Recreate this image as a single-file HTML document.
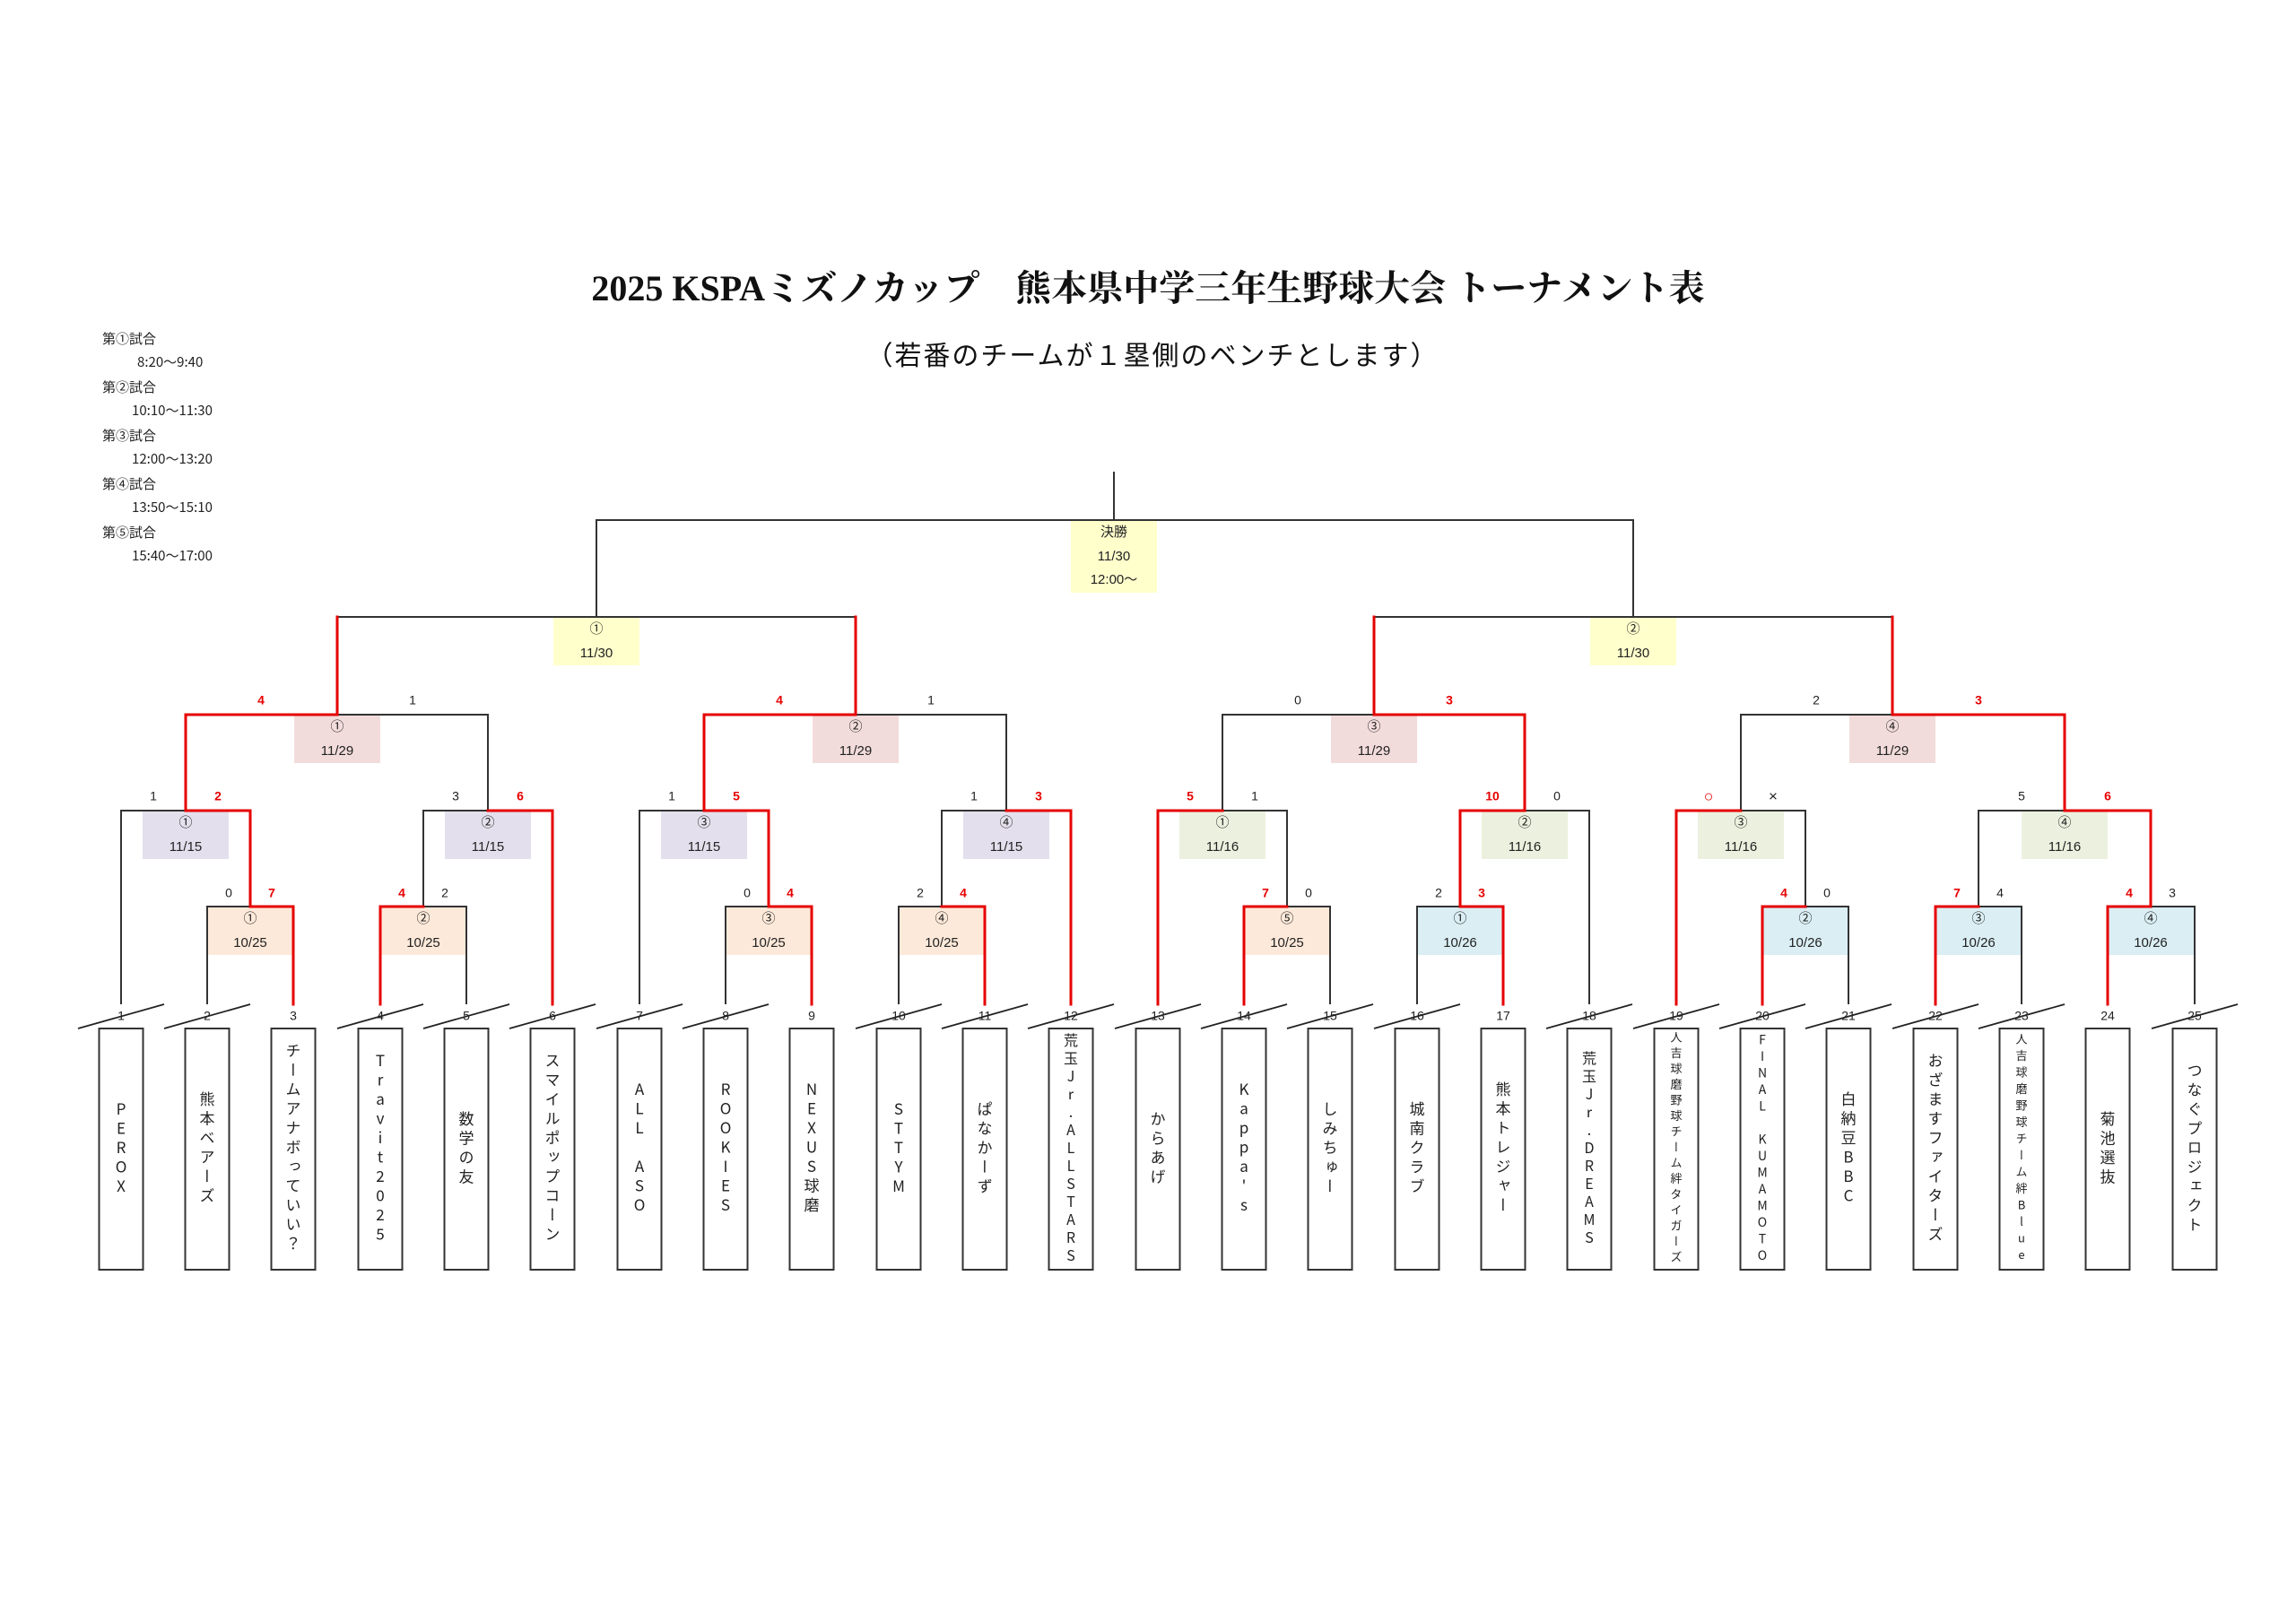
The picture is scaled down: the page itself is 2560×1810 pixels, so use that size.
<!DOCTYPE html>
<html><head><meta charset="utf-8">
<style>
html,body{margin:0;padding:0;background:#fff;}
body{width:2560px;height:1810px;position:relative;overflow:hidden;font-family:"Liberation Sans","Noto Sans CJK JP",sans-serif;color:#222;}
svg{position:absolute;left:0;top:0;}
.t{position:absolute;top:1147px;width:49px;height:269px;display:flex;align-items:center;justify-content:center;}
.t span{writing-mode:vertical-rl;text-orientation:upright;font-family:"Noto Sans CJK JP",sans-serif;font-size:17px;letter-spacing:4.5px;line-height:1;color:#222;white-space:nowrap;}
.lg{position:absolute;font-family:"Noto Sans CJK JP",sans-serif;font-size:15px;color:#222;line-height:1;}
</style></head><body>
<div style="position:absolute;left:0;top:300px;width:2560px;text-align:center;font-family:'Liberation Serif','Noto Serif CJK SC',serif;font-weight:bold;font-size:40px;line-height:44px;color:#111;">2025 KSPAミズノカップ　熊本県中学三年生野球大会 トーナメント表</div>
<div style="position:absolute;left:0;top:376px;width:2560px;text-align:center;font-family:'Noto Sans CJK JP',sans-serif;font-size:30px;letter-spacing:2px;line-height:36px;color:#111;padding-left:10px;box-sizing:border-box;">（若番のチームが１塁側のベンチとします）</div>

<div class="lg" style="left:114px;top:370px">第①試合</div>
<div class="lg" style="left:153px;top:396px">8:20～9:40</div>
<div class="lg" style="left:114px;top:424px">第②試合</div>
<div class="lg" style="left:147px;top:450px">10:10～11:30</div>
<div class="lg" style="left:114px;top:478px">第③試合</div>
<div class="lg" style="left:147px;top:504px">12:00～13:20</div>
<div class="lg" style="left:114px;top:532px">第④試合</div>
<div class="lg" style="left:147px;top:558px">13:50～15:10</div>
<div class="lg" style="left:114px;top:586px">第⑤試合</div>
<div class="lg" style="left:147px;top:612px">15:40～17:00</div>

<svg width="2560" height="1810" viewBox="0 0 2560 1810" xmlns="http://www.w3.org/2000/svg">
<g stroke="none">
<rect x="1194" y="581" width="96" height="80" fill="#ffffcc"/>
<rect x="617" y="689" width="96" height="53" fill="#ffffcc"/>
<rect x="1773" y="689" width="96" height="53" fill="#ffffcc"/>
<g fill="#f2dcdb">
<rect x="328" y="798" width="96" height="53"/><rect x="906" y="798" width="96" height="53"/>
<rect x="1484" y="798" width="96" height="53"/><rect x="2062" y="798" width="96" height="53"/>
</g>
<g fill="#e4dfec">
<rect x="159" y="905" width="96" height="53"/><rect x="496" y="905" width="96" height="53"/>
<rect x="737" y="905" width="96" height="53"/><rect x="1074" y="905" width="96" height="53"/>
</g>
<g fill="#ebf1de">
<rect x="1315" y="905" width="96" height="53"/><rect x="1652" y="905" width="96" height="53"/>
<rect x="1893" y="905" width="96" height="53"/><rect x="2254" y="905" width="96" height="53"/>
</g>
<g fill="#fde9d9">
<rect x="231" y="1012" width="96" height="53"/><rect x="424" y="1012" width="96" height="53"/>
<rect x="809" y="1012" width="96" height="53"/><rect x="1002" y="1012" width="96" height="53"/>
<rect x="1387" y="1012" width="96" height="53"/>
</g>
<g fill="#daeef3">
<rect x="1580" y="1012" width="96" height="53"/><rect x="1965" y="1012" width="96" height="53"/>
<rect x="2158" y="1012" width="96" height="53"/><rect x="2350" y="1012" width="96" height="53"/>
</g>
</g>

<g fill="none" stroke="#333" stroke-width="2">
<path d="M231 1120V1011H327V1120M424 1120V1011H520V1120M809 1120V1011H905V1120M1002 1120V1011H1098V1120M1387 1120V1011H1483V1120M1580 1120V1011H1676V1120M1965 1120V1011H2061V1120M2158 1120V1011H2254V1120M2350 1120V1011H2447V1120"/>
<path d="M135 1120V904H279V1011M472 1011V904H616V1120M713 1120V904H857V1011M1050 1011V904H1194V1120M1291 1120V904H1435V1011M1628 1011V904H1772V1120M1869 1120V904H2013V1011M2206 1011V904H2398V1011"/>
<path d="M207 904V797H544V904M785 904V797H1122V904M1363 904V797H1700V904M1941 904V797H2302V904"/>
<path d="M376 797V688H954V797M1532 797V688H2110V797"/>
<path d="M665 688V580H1821V688M1242 580V526"/>
</g>
<g fill="none" stroke="#e60000" stroke-width="3" stroke-linecap="square">
<path d="M327 1120V1011H279M424 1120V1011H472M905 1120V1011H857M1098 1120V1011H1050M1387 1120V1011H1435M1676 1120V1011H1628M1965 1120V1011H2013M2158 1120V1011H2206M2350 1120V1011H2398"/>
<path d="M279 1011V904H207M616 1120V904H544M857 1011V904H785M1194 1120V904H1122M1291 1120V904H1363M1628 1011V904H1700M1869 1120V904H1941M2398 1011V904H2302"/>
<path d="M207 904V797H376M785 904V797H954M1700 904V797H1532M2302 904V797H2110"/>
<path d="M376 797V688M954 797V688M1532 797V688M2110 797V688"/>
</g>

<g font-family="Liberation Sans, Noto Sans CJK JP, sans-serif" font-size="15" fill="#222" text-anchor="middle" dominant-baseline="middle">
<text x="1242" y="594">決勝</text><text x="1242" y="621">11/30</text><text x="1242" y="647">12:00～</text>
<text x="665" y="702">①</text><text x="665" y="729">11/30</text>
<text x="1821" y="702">②</text><text x="1821" y="729">11/30</text>
<text x="376" y="811">①</text><text x="376" y="838">11/29</text>
<text x="954" y="811">②</text><text x="954" y="838">11/29</text>
<text x="1532" y="811">③</text><text x="1532" y="838">11/29</text>
<text x="2110" y="811">④</text><text x="2110" y="838">11/29</text>
<text x="207" y="918">①</text><text x="207" y="945">11/15</text>
<text x="544" y="918">②</text><text x="544" y="945">11/15</text>
<text x="785" y="918">③</text><text x="785" y="945">11/15</text>
<text x="1122" y="918">④</text><text x="1122" y="945">11/15</text>
<text x="1363" y="918">①</text><text x="1363" y="945">11/16</text>
<text x="1700" y="918">②</text><text x="1700" y="945">11/16</text>
<text x="1941" y="918">③</text><text x="1941" y="945">11/16</text>
<text x="2302" y="918">④</text><text x="2302" y="945">11/16</text>
<text x="279" y="1025">①</text><text x="279" y="1052">10/25</text>
<text x="472" y="1025">②</text><text x="472" y="1052">10/25</text>
<text x="857" y="1025">③</text><text x="857" y="1052">10/25</text>
<text x="1050" y="1025">④</text><text x="1050" y="1052">10/25</text>
<text x="1435" y="1025">⑤</text><text x="1435" y="1052">10/25</text>
<text x="1628" y="1025">①</text><text x="1628" y="1052">10/26</text>
<text x="2013" y="1025">②</text><text x="2013" y="1052">10/26</text>
<text x="2206" y="1025">③</text><text x="2206" y="1052">10/26</text>
<text x="2398" y="1025">④</text><text x="2398" y="1052">10/26</text>
</g>

<g font-family="Liberation Sans, sans-serif" font-size="14" fill="#222" text-anchor="middle" dominant-baseline="middle">
<text x="460" y="782">1</text><text x="1038" y="782">1</text><text x="1447" y="782">0</text><text x="2025" y="782">2</text>
<text x="171" y="889">1</text><text x="508" y="889">3</text><text x="749" y="889">1</text><text x="1086" y="889">1</text>
<text x="1399" y="889">1</text><text x="1736" y="889">0</text><text x="1977" y="889" font-size="17">×</text><text x="2254" y="889">5</text>
<text x="255" y="997">0</text><text x="496" y="997">2</text><text x="833" y="997">0</text><text x="1026" y="997">2</text>
<text x="1459" y="997">0</text><text x="1604" y="997">2</text><text x="2037" y="997">0</text><text x="2230" y="997">4</text><text x="2422" y="997">3</text>
</g>
<g font-family="Liberation Sans, sans-serif" font-size="14" font-weight="bold" fill="#e60000" text-anchor="middle" dominant-baseline="middle">
<text x="291" y="782">4</text><text x="869" y="782">4</text><text x="1616" y="782">3</text><text x="2206" y="782">3</text>
<text x="243" y="889">2</text><text x="580" y="889">6</text><text x="821" y="889">5</text><text x="1158" y="889">3</text>
<text x="1327" y="889">5</text><text x="1664" y="889">10</text><text x="1905" y="889" font-size="18" font-weight="normal">○</text><text x="2350" y="889">6</text>
<text x="303" y="997">7</text><text x="448" y="997">4</text><text x="881" y="997">4</text><text x="1074" y="997">4</text>
<text x="1411" y="997">7</text><text x="1652" y="997">3</text><text x="1989" y="997">4</text><text x="2182" y="997">7</text><text x="2374" y="997">4</text>
</g>

<g font-family="Liberation Sans, sans-serif" font-size="14" fill="#222" text-anchor="middle" dominant-baseline="middle">
<text x="135" y="1134">1</text><text x="231" y="1134">2</text><text x="327" y="1134">3</text><text x="424" y="1134">4</text><text x="520" y="1134">5</text>
<text x="616" y="1134">6</text><text x="713" y="1134">7</text><text x="809" y="1134">8</text><text x="905" y="1134">9</text><text x="1002" y="1134">10</text>
<text x="1098" y="1134">11</text><text x="1194" y="1134">12</text><text x="1291" y="1134">13</text><text x="1387" y="1134">14</text><text x="1483" y="1134">15</text>
<text x="1580" y="1134">16</text><text x="1676" y="1134">17</text><text x="1772" y="1134">18</text><text x="1869" y="1134">19</text><text x="1965" y="1134">20</text>
<text x="2061" y="1134">21</text><text x="2158" y="1134">22</text><text x="2254" y="1134">23</text><text x="2350" y="1134">24</text><text x="2447" y="1134">25</text>
</g>
<g stroke="#222" stroke-width="1.8">
<path d="M87 1147L183 1120M183 1147L279 1120M376 1147L472 1120M472 1147L568 1120M568 1147L664 1120M665 1147L761 1120M761 1147L857 1120M954 1147L1050 1120M1050 1147L1146 1120M1146 1147L1242 1120M1243 1147L1339 1120M1339 1147L1435 1120M1435 1147L1531 1120M1532 1147L1628 1120M1724 1147L1820 1120M1821 1147L1917 1120M1917 1147L2013 1120M2013 1147L2109 1120M2110 1147L2206 1120M2206 1147L2302 1120M2399 1147L2495 1120"/>
</g>
<g fill="none" stroke="#333" stroke-width="2">
<rect x="110.5" y="1147" width="49" height="269"/><rect x="206.5" y="1147" width="49" height="269"/><rect x="302.5" y="1147" width="49" height="269"/><rect x="399.5" y="1147" width="49" height="269"/><rect x="495.5" y="1147" width="49" height="269"/>
<rect x="591.5" y="1147" width="49" height="269"/><rect x="688.5" y="1147" width="49" height="269"/><rect x="784.5" y="1147" width="49" height="269"/><rect x="880.5" y="1147" width="49" height="269"/><rect x="977.5" y="1147" width="49" height="269"/>
<rect x="1073.5" y="1147" width="49" height="269"/><rect x="1169.5" y="1147" width="49" height="269"/><rect x="1266.5" y="1147" width="49" height="269"/><rect x="1362.5" y="1147" width="49" height="269"/><rect x="1458.5" y="1147" width="49" height="269"/>
<rect x="1555.5" y="1147" width="49" height="269"/><rect x="1651.5" y="1147" width="49" height="269"/><rect x="1747.5" y="1147" width="49" height="269"/><rect x="1844.5" y="1147" width="49" height="269"/><rect x="1940.5" y="1147" width="49" height="269"/>
<rect x="2036.5" y="1147" width="49" height="269"/><rect x="2133.5" y="1147" width="49" height="269"/><rect x="2229.5" y="1147" width="49" height="269"/><rect x="2325.5" y="1147" width="49" height="269"/><rect x="2422.5" y="1147" width="49" height="269"/>
</g>
</svg>

<div class="t" style="left:110.5px"><span>PEROX</span></div>
<div class="t" style="left:206.5px"><span>熊本ベアーズ</span></div>
<div class="t" style="left:302.5px"><span>チームアナボっていい？</span></div>
<div class="t" style="left:399.5px"><span>Travit2025</span></div>
<div class="t" style="left:495.5px"><span>数学の友</span></div>
<div class="t" style="left:591.5px"><span>スマイルポップコーン</span></div>
<div class="t" style="left:688.5px"><span>ALL　ASO</span></div>
<div class="t" style="left:784.5px"><span>ROOKIES</span></div>
<div class="t" style="left:880.5px"><span>NEXUS球磨</span></div>
<div class="t" style="left:977.5px"><span>STTYM</span></div>
<div class="t" style="left:1073.5px"><span>ぱなかーず</span></div>
<div class="t" style="left:1169.5px"><span style="font-size:16px;letter-spacing:4px">荒玉Jr.ALLSTARS</span></div>
<div class="t" style="left:1266.5px"><span>からあげ</span></div>
<div class="t" style="left:1362.5px"><span>Kappa's</span></div>
<div class="t" style="left:1458.5px"><span>しみちゅー</span></div>
<div class="t" style="left:1555.5px"><span>城南クラブ</span></div>
<div class="t" style="left:1651.5px"><span>熊本トレジャー</span></div>
<div class="t" style="left:1747.5px"><span style="font-size:16px;letter-spacing:4px">荒玉Jr.DREAMS</span></div>
<div class="t" style="left:1844.5px"><span style="font-size:13px;letter-spacing:4.5px">人吉球磨野球チーム絆タイガーズ</span></div>
<div class="t" style="left:1940.5px"><span style="font-size:14px;letter-spacing:4.5px">FINAL　KUMAMOTO</span></div>
<div class="t" style="left:2036.5px"><span>白納豆BBC</span></div>
<div class="t" style="left:2133.5px"><span>おざますファイターズ</span></div>
<div class="t" style="left:2229.5px"><span style="font-size:13px;letter-spacing:5.5px">人吉球磨野球チーム絆Blue</span></div>
<div class="t" style="left:2325.5px"><span>菊池選抜</span></div>
<div class="t" style="left:2422.5px"><span>つなぐプロジェクト</span></div>
</body></html>
